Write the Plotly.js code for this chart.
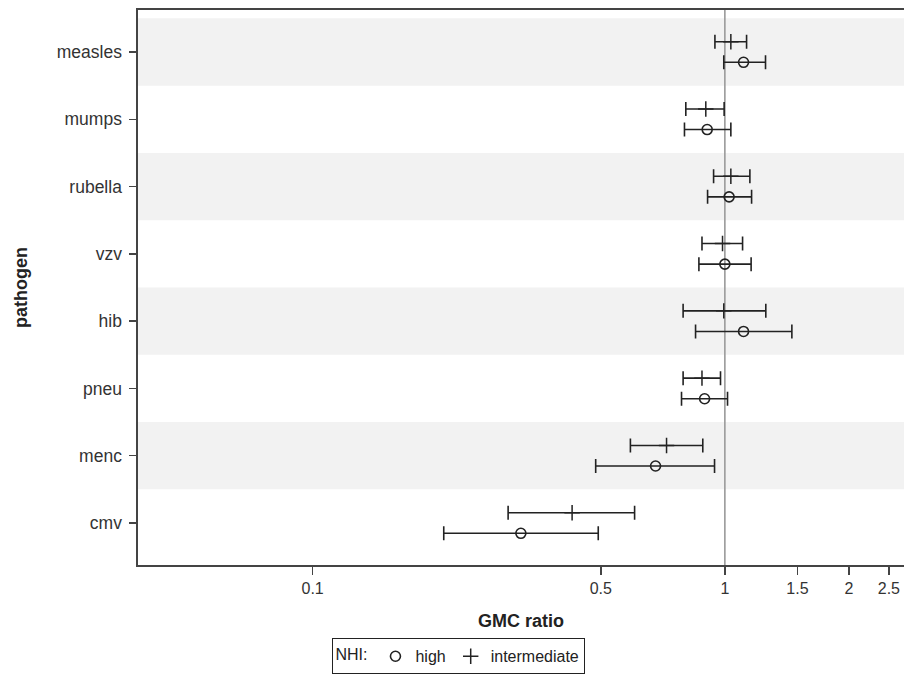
<!DOCTYPE html>
<html>
<head>
<meta charset="utf-8">
<script src="https://cdn.plot.ly/plotly-3.0.1.min.js"></script>
<style>html,body{margin:0;padding:0;background:#fff;}#chart{width:904px;height:676px;}</style>
</head>
<body>
<div id="chart"></div>
<script>
// Data
const categories = ['measles', 'mumps', 'rubella', 'vzv', 'hib', 'pneu', 'menc', 'cmv'];
const highEst = [1.110, 0.906, 1.024, 1.000, 1.110, 0.893, 0.679, 0.320];
const highLo  = [0.994, 0.798, 0.908, 0.865, 0.849, 0.785, 0.486, 0.208];
const highHi  = [1.255, 1.034, 1.161, 1.158, 1.454, 1.015, 0.944, 0.493];
const intEst  = [1.034, 0.899, 1.034, 0.987, 0.994, 0.880, 0.722, 0.426];
const intLo   = [0.946, 0.804, 0.939, 0.880, 0.792, 0.792, 0.590, 0.298];
const intHi   = [1.129, 0.996, 1.150, 1.104, 1.257, 0.976, 0.884, 0.604];
const xTicks = [0.1, 0.5, 1, 1.5, 2, 2.5];
const xTickText = ['0.1', '0.5', '1', '1.5', '2', '2.5'];

const idx = categories.map((c, i) => i);
const off = 0.153;
const ink = '#222';

const refLine = {
  x: [1, 1], y: [-0.7, categories.length - 0.3],
  mode: 'lines', line: {color: '#999', width: 1.6},
  showlegend: false, hoverinfo: 'skip', cliponaxis: true
};

const high = {
  name: 'high',
  x: highEst, y: idx.map(i => i + off),
  mode: 'markers', type: 'scatter',
  marker: {symbol: 'circle-open', size: 10, color: ink, line: {width: 1.6, color: ink}},
  error_x: {type: 'data', symmetric: false,
    array: highHi.map((v, i) => v - highEst[i]),
    arrayminus: highEst.map((v, i) => v - highLo[i]),
    color: ink, thickness: 1.6, width: 7}
};

const inter = {
  name: 'intermediate',
  x: intEst, y: idx.map(i => i - off),
  mode: 'markers', type: 'scatter',
  marker: {symbol: 'cross-thin-open', size: 11, color: ink, line: {width: 1.5, color: ink}},
  error_x: {type: 'data', symmetric: false,
    array: intHi.map((v, i) => v - intEst[i]),
    arrayminus: intEst.map((v, i) => v - intLo[i]),
    color: ink, thickness: 1.6, width: 7}
};

const bands = idx.filter(i => i % 2 === 0).map(i => ({
  type: 'rect', xref: 'paper', x0: 0, x1: 1, yref: 'y', y0: i - 0.5, y1: i + 0.5,
  fillcolor: '#f2f2f2', line: {width: 0}, layer: 'below'
}));

const layout = {
  width: 904, height: 676,
  margin: {l: 138, r: 0, t: 10, b: 111},
  paper_bgcolor: '#fff', plot_bgcolor: '#fff',
  font: {family: 'Liberation Sans, Arial, sans-serif', color: ink},
  showlegend: true,
  xaxis: {
    type: 'log', range: [Math.log10(0.0377), Math.log10(2.72)],
    tickvals: xTicks, ticktext: xTickText,
    ticks: 'outside', ticklen: 8, tickwidth: 1.5, tickcolor: '#444',
    tickfont: {size: 16, color: '#333'},
    showgrid: false, zeroline: false,
    showline: true, linecolor: '#444', linewidth: 1.6, mirror: true,
    title: {text: '<b>GMC ratio</b>', font: {size: 18, color: ink}, standoff: 18}
  },
  yaxis: {
    range: [categories.length - 1 + 0.624, -0.624],
    tickvals: idx, ticktext: categories,
    ticks: 'outside', ticklen: 7, tickwidth: 1.5, tickcolor: '#444',
    tickfont: {size: 17.5, color: '#333'}, ticklabelstandoff: 4,
    showgrid: false, zeroline: false,
    showline: true, linecolor: '#444', linewidth: 1.6,
    title: {text: '<b>pathogen</b>', font: {size: 18, color: ink}, standoff: 24}
  },
  shapes: bands,
  legend: {
    orientation: 'h', x: 0.419, xanchor: 'center', y: -0.197, yanchor: 'bottom',
    bordercolor: '#222', borderwidth: 1, bgcolor: '#fff',
    font: {size: 16, color: ink},
    title: {text: 'NHI:', side: 'left', font: {size: 16, color: ink}},
    itemwidth: 30, tracegroupgap: 0
  }
};

Plotly.newPlot('chart', [refLine, high, inter], layout, {displayModeBar: false, staticPlot: true});
</script>
</body>
</html>
